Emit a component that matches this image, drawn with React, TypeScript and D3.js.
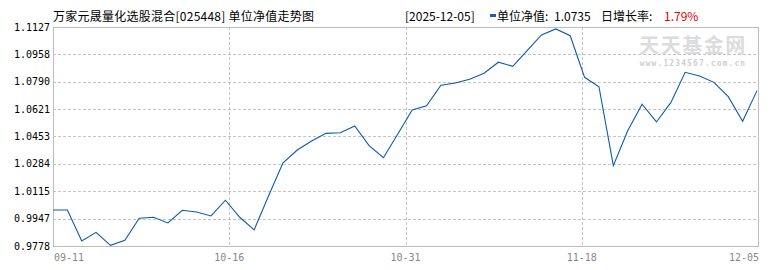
import React from "react";
import * as d3 from "d3";

const navValues: number[] = [
  1.0000, 1.0000, 0.9809, 0.9862, 0.9782, 0.9813, 0.9949, 0.9955, 0.9920, 0.9998,
  0.9987, 0.9963, 1.0060, 0.9955, 0.9877, 1.0086, 1.0289, 1.0369, 1.0425, 1.0472,
  1.0476, 1.0517, 1.0396, 1.0322, 1.0468, 1.0616, 1.0642, 1.0768, 1.0782, 1.0805,
  1.0842, 1.0910, 1.0885, 1.0982, 1.1078, 1.1115, 1.1073, 1.0817, 1.0759, 1.0273,
  1.0488, 1.0651, 1.0542, 1.0661, 1.0848, 1.0825, 1.0786, 1.0698, 1.0546, 1.0735,
];

const yTickValues: number[] = [1.1127, 1.0958, 1.0790, 1.0621, 1.0453, 1.0284, 1.0115, 0.9947, 0.9778];
const xTickLabels: string[] = ["09-11", "10-16", "10-31", "11-18", "12-05"];

const titleText = "万家元晟量化选股混合[025448] 单位净值走势图";
const dateText = "[2025-12-05]";
const navLabel = "单位净值:";
const navText = "1.0735";
const growthLabel = "日增长率:";
const growthText = "1.79%";

const W = 770;
const H = 270;
const left = 53;
const right = 758;
const top = 27;
const bottom = 246;

export default function App() {
  const x = d3.scaleLinear().domain([0, navValues.length - 1]).range([left, right - 1]);
  const y = d3.scaleLinear().domain([0.9778, 1.1127]).range([bottom, top]);
  const line = d3
    .line<number>()
    .x((_, i) => x(i))
    .y((d) => y(d));
  const frac = d3.scaleLinear().domain([0, xTickLabels.length - 1]).range([left, right]);
  const numFont = "'DejaVu Sans Mono', 'Liberation Mono', monospace";
  const cjkFont = "'Noto Sans CJK SC', sans-serif";
  const grid = "#c4c4c4";

  return (
    <svg
      width={W}
      height={H}
      style={{ position: "absolute", left: 0, top: 0, background: "#fff" }}
    >
      {/* watermark */}
      <text
        x={693}
        y={53}
        textAnchor="middle"
        fontFamily={cjkFont}
        fontWeight="bold"
        fontSize={20}
        fill="#dcdcdc"
        letterSpacing={1.5}
      >
        天天基金网
      </text>
      <text
        x={693}
        y={66}
        textAnchor="middle"
        fontFamily={numFont}
        fontWeight="bold"
        fontSize={8}
        fill="#d0d0d0"
        letterSpacing={1.1}
      >
        www.1234567.com.cn
      </text>

      {/* horizontal grid */}
      {yTickValues.slice(1, -1).map((v) => (
        <line
          key={"h" + v}
          x1={left}
          x2={right}
          y1={Math.round(y(v)) + 0.5}
          y2={Math.round(y(v)) + 0.5}
          stroke={grid}
          strokeDasharray="3,2"
        />
      ))}
      {/* vertical grid */}
      {xTickLabels.slice(1, -1).map((t, i) => (
        <line
          key={"v" + t}
          x1={Math.round(frac(i + 1)) + 0.5}
          x2={Math.round(frac(i + 1)) + 0.5}
          y1={top}
          y2={bottom}
          stroke={grid}
          strokeDasharray="3,2"
        />
      ))}
      {/* frame */}
      <rect
        x={left + 0.5}
        y={top + 0.5}
        width={right - left}
        height={bottom - top}
        fill="none"
        stroke="#bdbdbd"
      />

      {/* y labels */}
      {yTickValues.map((v) => (
        <text
          key={"y" + v}
          x={50}
          y={y(v) + 3.5}
          textAnchor="end"
          fontFamily={numFont}
          fontSize={10}
          fill="#000"
        >
          {v.toFixed(4)}
        </text>
      ))}
      {/* x labels */}
      {xTickLabels.map((t, i) => (
        <text
          key={"x" + t}
          x={i === 0 ? left + 1 : i === xTickLabels.length - 1 ? right + 1 : frac(i)}
          y={261}
          textAnchor={i === 0 ? "start" : i === xTickLabels.length - 1 ? "end" : "middle"}
          fontFamily={numFont}
          fontSize={10}
          fill="#888"
        >
          {t}
        </text>
      ))}

      {/* data line */}
      <path d={line(navValues) ?? ""} fill="none" stroke="#0b5bab" strokeWidth={1.1} />

      {/* header */}
      <text x={53} y={21} fontFamily={cjkFont} fontSize={12} fill="#000" letterSpacing={0.25}>
        {titleText}
      </text>
      <text x={405} y={21} fontFamily={cjkFont} fontSize={12} fill="#000">
        {dateText}
      </text>
      <rect x={490} y={14} width={6} height={3} fill="#1f5fb0" />
      <text x={497} y={21} fontFamily={cjkFont} fontSize={12} fill="#000">
        {navLabel}
      </text>
      <text x={554} y={21} fontFamily={cjkFont} fontSize={12} fill="#000">
        {navText}
      </text>
      <text x={601} y={21} fontFamily={cjkFont} fontSize={12} fill="#000">
        {growthLabel}
      </text>
      <text x={664} y={21} fontFamily={cjkFont} fontSize={12} fill="#e00000">
        {growthText}
      </text>
    </svg>
  );
}
